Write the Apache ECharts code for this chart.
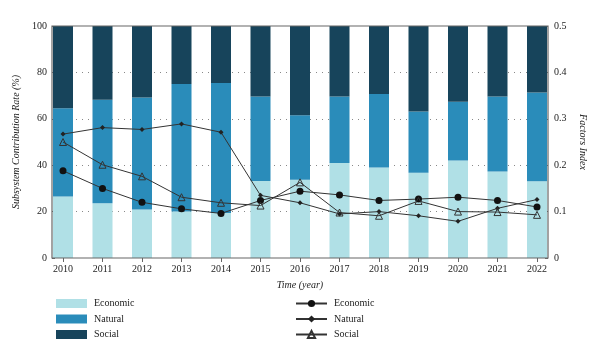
<!DOCTYPE html>
<html><head><meta charset="utf-8">
<script src="https://cdn.jsdelivr.net/npm/echarts@6/dist/echarts.min.js"></script>
<style>html,body{margin:0;padding:0;background:#fff}#c{width:600px;height:361px}</style>
</head><body><div id="c"></div>
<script>
const years = ['2010','2011','2012','2013','2014','2015','2016','2017','2018','2019','2020','2021','2022'];
const barEconomic = [26.5,23.6,20.9,20.0,19.4,33.2,33.7,41.0,39.0,36.7,42.0,37.3,33.1];
const barNatural  = [38.0,44.6,48.3,55.0,56.0,36.4,27.8,28.6,31.7,26.4,25.3,32.3,38.2];
const barSocial   = [35.5,31.8,30.8,25.0,24.6,30.4,38.5,30.4,29.3,36.9,32.7,30.4,28.7];
const idxEconomic = [0.188,0.150,0.120,0.106,0.096,0.124,0.144,0.136,0.124,0.127,0.131,0.124,0.110];
const idxNatural  = [0.267,0.281,0.277,0.289,0.271,0.135,0.119,0.095,0.100,0.091,0.079,0.107,0.126];
const idxSocial   = [0.250,0.201,0.176,0.131,0.119,0.113,0.163,0.098,0.091,0.123,0.100,0.099,0.093];

const font = 'Liberation Serif';
const axisColor = '#666';
const txt = '#222';
const chart = echarts.init(document.getElementById('c'), null, {renderer:'canvas'});
const barBase = {type:'bar', stack:'s', barWidth:20, xAxisIndex:1, yAxisIndex:2};
const lineBase = {type:'line', xAxisIndex:1, yAxisIndex:3, lineStyle:{color:'#333', width:1}, z:5};
chart.setOption({
  animation:false,
  textStyle:{fontFamily:font},
  grid:[{left:52, right:52, top:26, bottom:103, show:true, borderColor:axisColor, borderWidth:1.2, backgroundColor:'transparent', z:10},
        {left:63, right:63, top:26, bottom:103}],
  legend:[
    {data:['Economic','Natural','Social'], orient:'vertical', left:51, top:293.5, itemWidth:31, itemHeight:9, itemGap:5.5, icon:'rect',
     textStyle:{fontFamily:font, fontSize:10, color:txt, padding:[0,0,0,2]}},
    {data:['Economic index','Natural index','Social index'], orient:'vertical', left:290, top:293.5, itemWidth:31, itemHeight:9, itemGap:5.5,
     formatter: n => n.replace(' index',''), textStyle:{fontFamily:font, fontSize:10, color:txt, padding:[0,0,0,2]}}
  ],
  xAxis:[
    {type:'value', gridIndex:0, min:0, max:1,
     name:'Time (year)', nameLocation:'middle', nameGap:22,
     nameTextStyle:{fontFamily:font, fontStyle:'italic', fontSize:10, color:txt},
     axisLine:{show:false},
     axisTick:{show:false}, axisLabel:{show:false}, splitLine:{show:false}},
    {type:'category', gridIndex:1, data:years, boundaryGap:false,
     axisLine:{show:false},
     axisTick:{show:true, inside:true, length:4, lineStyle:{color:axisColor}},
     axisLabel:{fontSize:10, color:txt, margin:6},
     splitLine:{show:false}},
    {type:'category', gridIndex:1, data:years, boundaryGap:false, position:'top',
     axisLine:{show:false},
     axisTick:{show:true, inside:true, length:4, lineStyle:{color:axisColor}},
     axisLabel:{show:false}, splitLine:{show:false}}
  ],
  yAxis:[
    {type:'value', gridIndex:0, min:0, max:100, interval:20, position:'left',
     name:'Subsystem Contribution Rate (%)', nameLocation:'middle', nameGap:26,
     nameTextStyle:{fontFamily:font, fontStyle:'italic', fontSize:10, color:txt},
     axisLine:{show:false},
     axisTick:{show:true, inside:true, length:3, lineStyle:{color:axisColor}},
     axisLabel:{fontSize:10, color:txt, margin:5},
     splitLine:{show:true, showMinLine:false, showMaxLine:false, lineStyle:{color:'#888', type:[1,5], width:1}}},
    {type:'value', gridIndex:0, min:0, max:0.5, interval:0.1, position:'right',
     name:'Factors Index', nameLocation:'middle', nameGap:28, nameRotate:-90,
     nameTextStyle:{fontFamily:font, fontStyle:'italic', fontSize:10, color:txt},
     axisLine:{show:false},
     axisTick:{show:true, inside:true, length:3, lineStyle:{color:axisColor}},
     axisLabel:{fontSize:10, color:txt, margin:6, formatter:v=>String(v)},
     splitLine:{show:false}},
    {type:'value', gridIndex:1, min:0, max:100, interval:20, show:false},
    {type:'value', gridIndex:1, min:0, max:0.5, interval:0.1, show:false}
  ],
  series:[
    Object.assign({name:'Economic', data:barEconomic, itemStyle:{color:'#b0e0e6'}}, barBase),
    Object.assign({name:'Natural', data:barNatural, itemStyle:{color:'#2a8cba'}}, barBase),
    Object.assign({name:'Social', data:barSocial, itemStyle:{color:'#17445b'}}, barBase),
    Object.assign({name:'Economic index', data:idxEconomic, symbol:'circle', symbolSize:7, itemStyle:{color:'#111'}}, lineBase),
    Object.assign({name:'Natural index', data:idxNatural, symbol:'diamond', symbolSize:5, itemStyle:{color:'#222'}}, lineBase),
    Object.assign({name:'Social index', data:idxSocial, symbol:'triangle', symbolSize:7, itemStyle:{color:'rgba(0,0,0,0)', borderColor:'#333', borderWidth:1}}, lineBase)
  ]
});
</script></body></html>
